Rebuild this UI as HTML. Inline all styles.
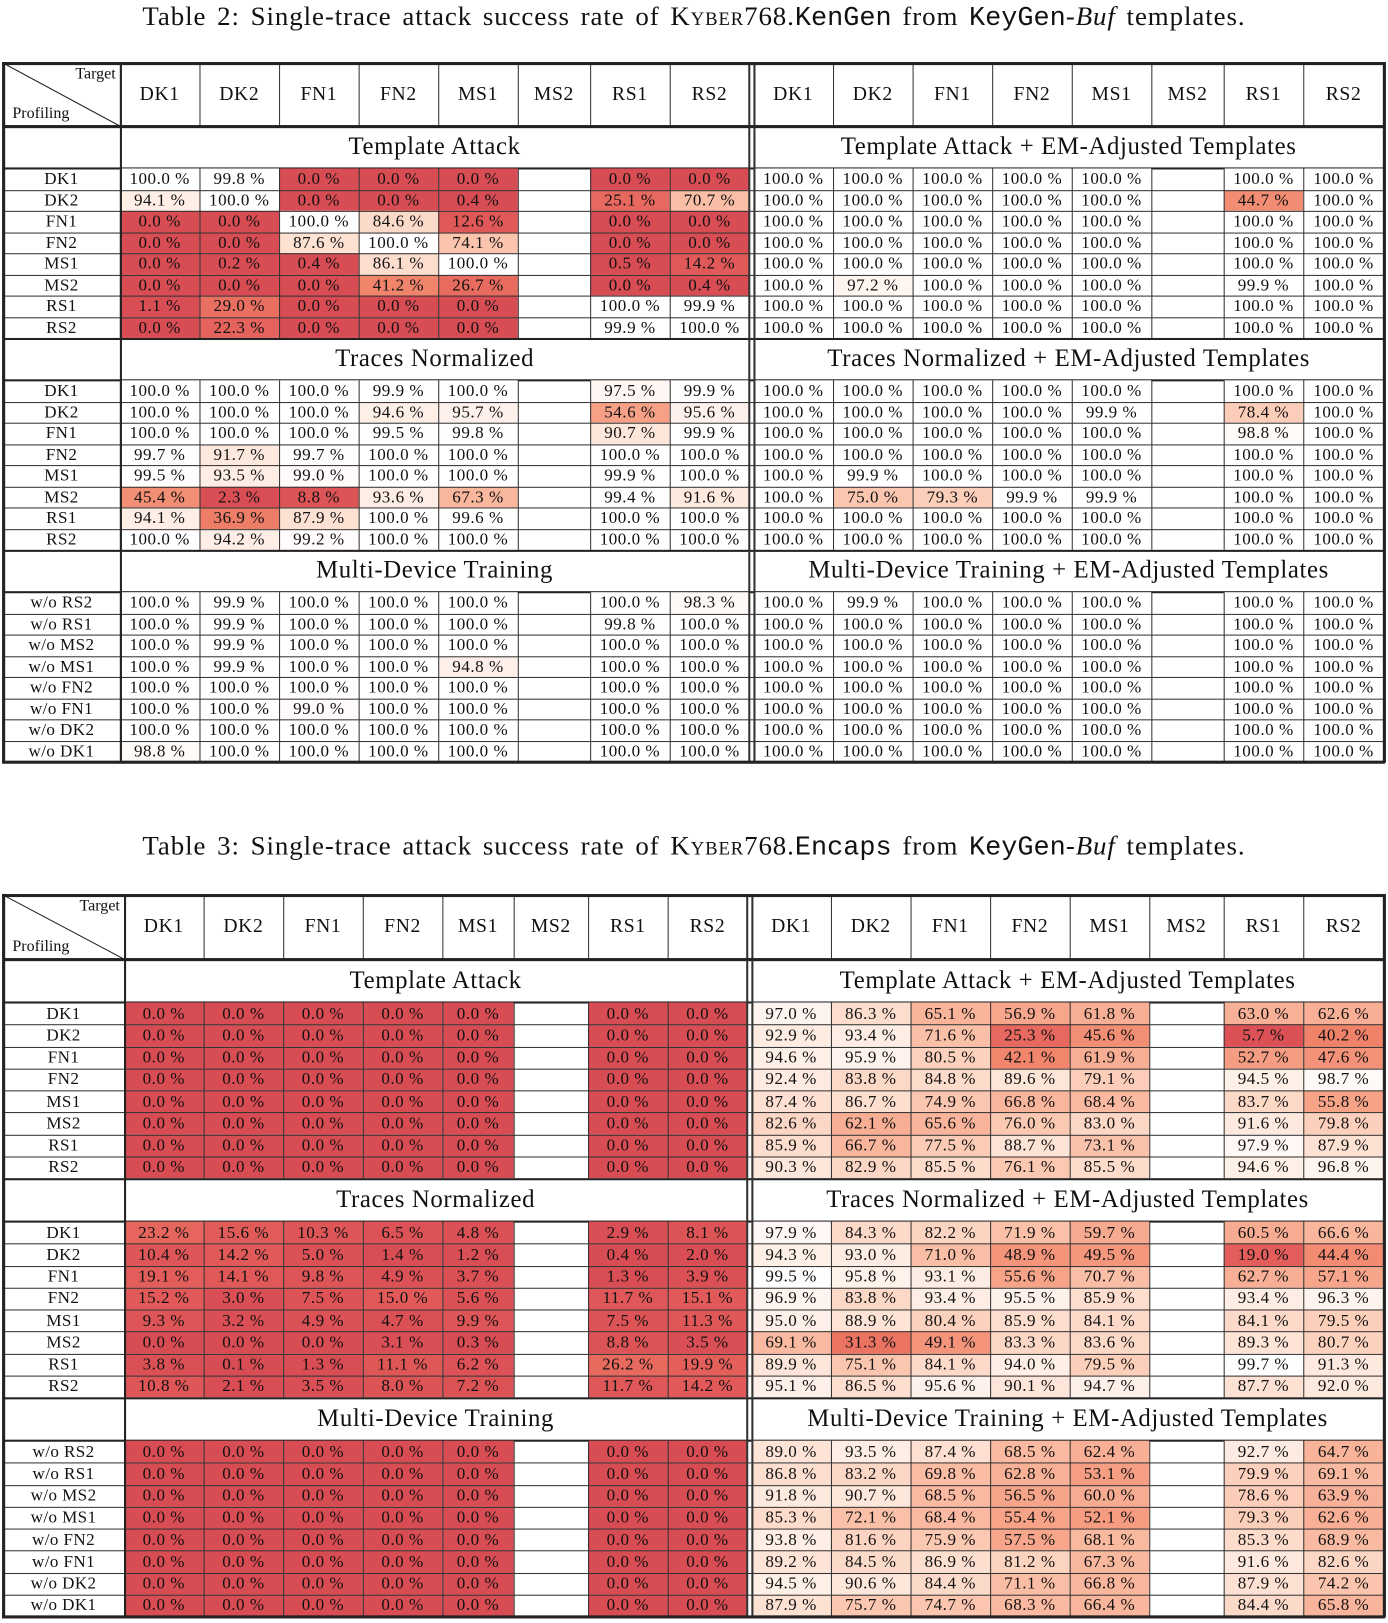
<!DOCTYPE html>
<html><head><meta charset="utf-8">
<style>
html,body{margin:0;padding:0;background:#fff;width:1388px;height:1622px;overflow:hidden}
#wrap{position:absolute;left:0;top:0;width:1343px;height:1570px;transform:scale(1.0335);transform-origin:0 0;font-family:"Liberation Serif","DejaVu Serif",serif;color:#111}
.c{position:absolute;box-sizing:border-box;display:flex;align-items:center;justify-content:center;white-space:nowrap}
.cap{position:absolute;left:0;width:1343px;text-align:center;font-size:26px;letter-spacing:0.9px;word-spacing:3px}
.sc{font-variant:small-caps}
.tt{font-family:"Liberation Mono",monospace;letter-spacing:0}
.ln{position:absolute;background:#222}
</style></head><body>
<div id="wrap">
<div class="cap" style="top:1px">Table 2: Single-trace attack success rate of <span class="sc">Kyber768</span>.<span class="tt">KenGen</span> from <span class="tt">KeyGen</span>-<i>Buf</i> templates.</div>
<div class="cap" style="top:804px">Table 3: Single-trace attack success rate of <span class="sc">Kyber768</span>.<span class="tt">Encaps</span> from <span class="tt">KeyGen</span>-<i>Buf</i> templates.</div>
</div>
<script>
const cols = ["DK1","DK2","FN1","FN2","MS1","MS2","RS1","RS2"];
const rowsA = ["DK1","DK2","FN1","FN2","MS1","MS2","RS1","RS2"];
const rowsMD = ["w/o RS2","w/o RS1","w/o MS2","w/o MS1","w/o FN2","w/o FN1","w/o DK2","w/o DK1"];
const sectionTitles = ["Template Attack","Template Attack + EM-Adjusted Templates","Traces Normalized","Traces Normalized + EM-Adjusted Templates","Multi-Device Training","Multi-Device Training + EM-Adjusted Templates"];
const N = null;
const t2_ta_left = [
[100.0,99.8,0.0,0.0,0.0,N,0.0,0.0],
[94.1,100.0,0.0,0.0,0.4,N,25.1,70.7],
[0.0,0.0,100.0,84.6,12.6,N,0.0,0.0],
[0.0,0.0,87.6,100.0,74.1,N,0.0,0.0],
[0.0,0.2,0.4,86.1,100.0,N,0.5,14.2],
[0.0,0.0,0.0,41.2,26.7,N,0.0,0.4],
[1.1,29.0,0.0,0.0,0.0,N,100.0,99.9],
[0.0,22.3,0.0,0.0,0.0,N,99.9,100.0]];
const t2_ta_right = [
[100,100,100,100,100,N,100,100],
[100,100,100,100,100,N,44.7,100],
[100,100,100,100,100,N,100,100],
[100,100,100,100,100,N,100,100],
[100,100,100,100,100,N,100,100],
[100,97.2,100,100,100,N,99.9,100],
[100,100,100,100,100,N,100,100],
[100,100,100,100,100,N,100,100]];
const t2_tn_left = [
[100,100,100,99.9,100,N,97.5,99.9],
[100,100,100,94.6,95.7,N,54.6,95.6],
[100,100,100,99.5,99.8,N,90.7,99.9],
[99.7,91.7,99.7,100,100,N,100,100],
[99.5,93.5,99.0,100,100,N,99.9,100],
[45.4,2.3,8.8,93.6,67.3,N,99.4,91.6],
[94.1,36.9,87.9,100,99.6,N,100,100],
[100,94.2,99.2,100,100,N,100,100]];
const t2_tn_right = [
[100,100,100,100,100,N,100,100],
[100,100,100,100,99.9,N,78.4,100],
[100,100,100,100,100,N,98.8,100],
[100,100,100,100,100,N,100,100],
[100,99.9,100,100,100,N,100,100],
[100,75.0,79.3,99.9,99.9,N,100,100],
[100,100,100,100,100,N,100,100],
[100,100,100,100,100,N,100,100]];
const t2_md_left = [
[100,99.9,100,100,100,N,100,98.3],
[100,99.9,100,100,100,N,99.8,100],
[100,99.9,100,100,100,N,100,100],
[100,99.9,100,100,94.8,N,100,100],
[100,100,100,100,100,N,100,100],
[100,100,99.0,100,100,N,100,100],
[100,100,100,100,100,N,100,100],
[98.8,100,100,100,100,N,100,100]];
const t2_md_right = [
[100,99.9,100,100,100,N,100,100],
[100,100,100,100,100,N,100,100],
[100,100,100,100,100,N,100,100],
[100,100,100,100,100,N,100,100],
[100,100,100,100,100,N,100,100],
[100,100,100,100,100,N,100,100],
[100,100,100,100,100,N,100,100],
[100,100,100,100,100,N,100,100]];
const t3_ta_left = [
[0,0,0,0,0,N,0,0],[0,0,0,0,0,N,0,0],[0,0,0,0,0,N,0,0],[0,0,0,0,0,N,0,0],
[0,0,0,0,0,N,0,0],[0,0,0,0,0,N,0,0],[0,0,0,0,0,N,0,0],[0,0,0,0,0,N,0,0]];
const t3_ta_right = [
[97.0,86.3,65.1,56.9,61.8,N,63.0,62.6],
[92.9,93.4,71.6,25.3,45.6,N,5.7,40.2],
[94.6,95.9,80.5,42.1,61.9,N,52.7,47.6],
[92.4,83.8,84.8,89.6,79.1,N,94.5,98.7],
[87.4,86.7,74.9,66.8,68.4,N,83.7,55.8],
[82.6,62.1,65.6,76.0,83.0,N,91.6,79.8],
[85.9,66.7,77.5,88.7,73.1,N,97.9,87.9],
[90.3,82.9,85.5,76.1,85.5,N,94.6,96.8]];
const t3_tn_left = [
[23.2,15.6,10.3,6.5,4.8,N,2.9,8.1],
[10.4,14.2,5.0,1.4,1.2,N,0.4,2.0],
[19.1,14.1,9.8,4.9,3.7,N,1.3,3.9],
[15.2,3.0,7.5,15.0,5.6,N,11.7,15.1],
[9.3,3.2,4.9,4.7,9.9,N,7.5,11.3],
[0.0,0.0,0.0,3.1,0.3,N,8.8,3.5],
[3.8,0.1,1.3,11.1,6.2,N,26.2,19.9],
[10.8,2.1,3.5,8.0,7.2,N,11.7,14.2]];
const t3_tn_right = [
[97.9,84.3,82.2,71.9,59.7,N,60.5,66.6],
[94.3,93.0,71.0,48.9,49.5,N,19.0,44.4],
[99.5,95.8,93.1,55.6,70.7,N,62.7,57.1],
[96.9,83.8,93.4,95.5,85.9,N,93.4,96.3],
[95.0,88.9,80.4,85.9,84.1,N,84.1,79.5],
[69.1,31.3,49.1,83.3,83.6,N,89.3,80.7],
[89.9,75.1,84.1,94.0,79.5,N,99.7,91.3],
[95.1,86.5,95.6,90.1,94.7,N,87.7,92.0]];
const t3_md_left = [
[0,0,0,0,0,N,0,0],[0,0,0,0,0,N,0,0],[0,0,0,0,0,N,0,0],[0,0,0,0,0,N,0,0],
[0,0,0,0,0,N,0,0],[0,0,0,0,0,N,0,0],[0,0,0,0,0,N,0,0],[0,0,0,0,0,N,0,0]];
const t3_md_right = [
[89.0,93.5,87.4,68.5,62.4,N,92.7,64.7],
[86.8,83.2,69.8,62.8,53.1,N,79.9,69.1],
[91.8,90.7,68.5,56.5,60.0,N,78.6,63.9],
[85.3,72.1,68.4,55.4,52.1,N,79.3,62.6],
[93.8,81.6,75.9,57.5,68.1,N,85.3,68.9],
[89.2,84.5,86.9,81.2,67.3,N,91.6,82.6],
[94.5,90.6,84.4,71.1,66.8,N,87.9,74.2],
[87.9,75.7,74.7,68.3,66.4,N,84.4,65.8]];

const stops=[[0,[216,76,84]],[20,[228,95,90]],[40,[240,130,105]],[55,[246,162,135]],[70,[250,188,163]],[80,[252,208,188]],[90,[253,230,217]],[97,[254,244,239]],[99.95,[255,255,255]],[100,[255,255,255]]];
function colorOf(v){
  for(let i=1;i<stops.length;i++){
    if(v<=stops[i][0]){const a=stops[i-1],b=stops[i];const t=(v-a[0])/(b[0]-a[0]);
      const c=a[1].map((x,k)=>Math.round(x+(b[1][k]-x)*t));return `rgb(${c})`;}
  }
  return '#fff';
}
const wrap=document.getElementById('wrap');
function cell(x,y,w,h,txt,fs,bg,ls){
  const d=document.createElement('div');d.className='c';
  d.style.cssText=`left:${x}px;top:${y}px;width:${w}px;height:${h}px;font-size:${fs}px;`+(bg?`background:${bg};`:'')+(ls?`letter-spacing:${ls}px;`:'');
  d.textContent=txt;wrap.appendChild(d);return d;
}
function line(x,y,w,h,c){const d=document.createElement('div');d.className='ln';
  d.style.cssText=`left:${x}px;top:${y}px;width:${w}px;height:${h}px;`+(c?`background:${c};`:'');
  
  
  wrap.appendChild(d);}

function buildTable(id,top,hdrH,secH,rowH,xl,xr,data){
  const left=3,right=1339;
  const edges=[xl,xr];
  const hb=top+hdrH;
  const svg=document.createElementNS('http://www.w3.org/2000/svg','svg');
  svg.setAttribute('style',`position:absolute;left:${left}px;top:${top}px`);
  svg.setAttribute('width',xl[0]-left);svg.setAttribute('height',hdrH);
  svg.innerHTML=`<line x1="0" y1="0" x2="${xl[0]-left}" y2="${hdrH}" stroke="#222" stroke-width="1"/>`;
  
  
  wrap.appendChild(svg);
  let d=cell(xl[0]-64,top+1,60,20,'Target',15.5);d.style.justifyContent='flex-end';
  
  
  d=cell(left+9,top+hdrH-23,80,22,'Profiling',15.5);d.style.justifyContent='flex-start';
  
  
  edges.forEach(e=>{for(let i=0;i<8;i++){
    const c=cell(e[i],top,e[i+1]-e[i],hdrH,cols[i],19,null,0.6);
    
    
  }});
  let y=hb;
  for(let s=0;s<3;s++){
    for(let h=0;h<2;h++){
      const e=edges[h];
      const c=cell(e[0],y,e[8]-e[0],secH,sectionTitles[s*2+h],24,null,0.6);
      
      
    }
    line(left,y,right-left,2);
    line(left,y+secH-1,right-left,2);
    const ys=y+secH;
    const labels=s==2?rowsMD:rowsA;
    for(let r=0;r<8;r++){
      const ry=ys+r*rowH;
      const lc=cell(left,ry,xl[0]-left,rowH,labels[r],16.5,null,0.4);
      
      
      for(let h=0;h<2;h++){
        const e=edges[h];const arr=data[s*2+h];
        for(let i=0;i<8;i++){
          const v=arr[r][i];
          const c=cell(e[i],ry,e[i+1]-e[i],rowH,v===null?'':v.toFixed(1)+' %',16.5,v===null?null:colorOf(v),0.5);
          
          
        }
      }
      if(r>0) line(left,ry,right-left,1,'#333');
    }
    y=ys+8*rowH;
  }
  const bottom=y;
  [xl,xr].forEach((e,h)=>{for(let i=(h==0?0:1);i<8;i++){
    line(e[i],top,1,hdrH,'#333');
    let yy=hb;
    for(let s=0;s<3;s++){ line(e[i],yy+secH,1,8*rowH,'#333'); yy+=secH+8*rowH; }
  }});
  line(xl[0],top,1.5,bottom-top);
  line(xl[8]-1,top,1.5,bottom-top,'#333');
  line(xr[0],top,1.5,bottom-top,'#333');
  line(left,hb-1,right-left,2);
  line(left-1,top-1,right-left+2,3);
  line(left-1,bottom-1,right-left+2,3);
  line(left-1,top-1,3,bottom-top+2);
  line(right-1,top-1,3,bottom-top+2);
}
buildTable('t2',61,61,41,20.5,[116,193,270,347,424,501,571,648,725],[729,806,883,960,1037,1114,1184,1261,1339],
  [t2_ta_left,t2_ta_right,t2_tn_left,t2_tn_right,t2_md_left,t2_md_right]);
buildTable('t3',866,62,42,21.25,[120,197,274,351,428,497,569,646,723],[727,804,881,958,1035,1112,1184,1261,1339],
  [t3_ta_left,t3_ta_right,t3_tn_left,t3_tn_right,t3_md_left,t3_md_right]);
</script>
</body></html>
